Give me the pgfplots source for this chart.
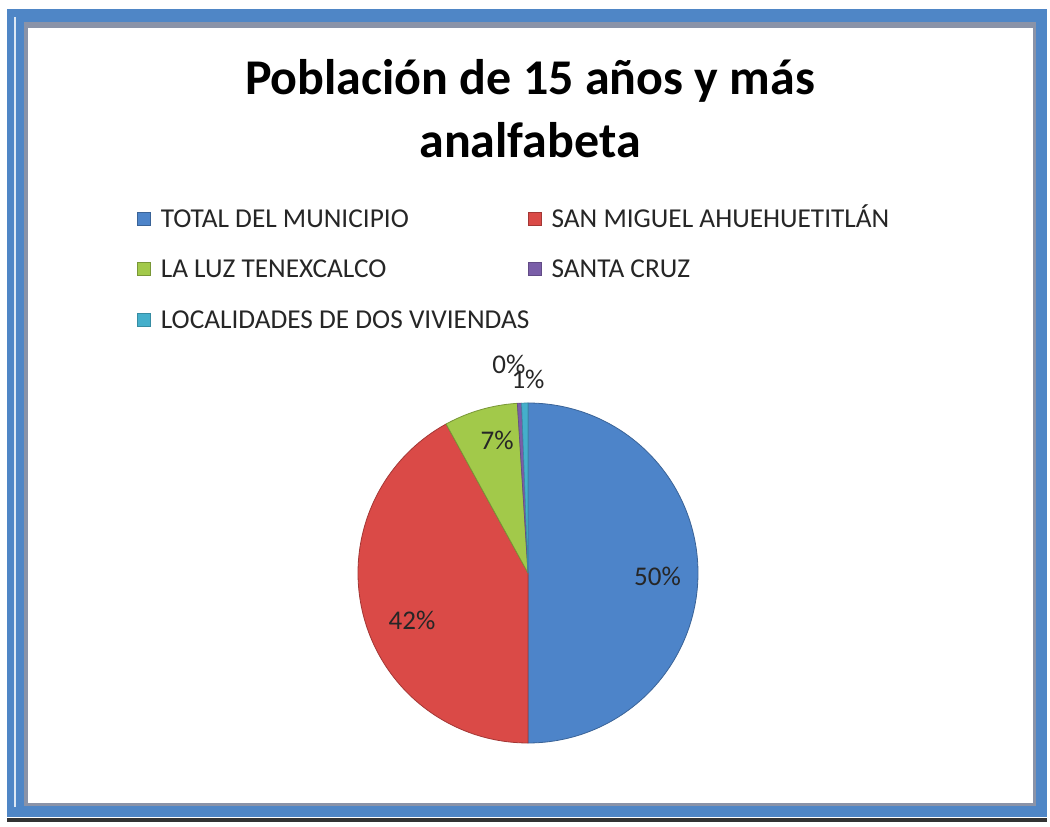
\documentclass[border=0pt]{standalone}
\usepackage{pgfplots}
\pgfplotsset{compat=1.18}
\usepackage{fontspec}
\setmainfont{Carlito}
\definecolor{frameblue}{HTML}{4F86C6}
\definecolor{framegray}{HTML}{8A93A8}
\definecolor{cBlue}{HTML}{4D84C9}
\definecolor{cRed}{HTML}{DA4A47}
\definecolor{cGreen}{HTML}{A2C94A}
\definecolor{cPurple}{HTML}{7A5EA8}
\definecolor{cTeal}{HTML}{45AFCB}
% shares (percent of the pie)
\def\vTotal{50}
\def\vSanMiguel{42}
\def\vLaLuz{7.0}
\def\vSantaCruz{0.4}
\def\vLocalidades{0.6}
\begin{document}
\begin{tikzpicture}[x=1pt,y=1pt]
\useasboundingbox (0,0) rectangle (1050,827);
\fill[white] (0,0) rectangle (1050,827);
\fill[frameblue] (7,818) rectangle (1047,10);
\fill[black!80] (7,9) rectangle (1047,5);
\fill[framegray] (24,805) rectangle (1036,21);
\fill[white] (28,799) rectangle (1033,24);
\draw[white!80!frameblue, line width=1.2pt] (15,810) -- (15,20);
\node[anchor=base, font=\fontsize{50}{60}\selectfont\bfseries] at (530,732) {Población de 15 años y más};
\node[anchor=base, font=\fontsize{50}{60}\selectfont\bfseries] at (530,669) {analfabeta};
\pgfmathsetmacro\aA{90}
\pgfmathsetmacro\aB{\aA-3.6*\vTotal}
\pgfmathsetmacro\aC{\aB-3.6*\vSanMiguel}
\pgfmathsetmacro\aD{\aC-3.6*\vLaLuz}
\pgfmathsetmacro\aE{\aD-3.6*\vSantaCruz}
\pgfmathsetmacro\aF{\aE-3.6*\vLocalidades}
\begin{axis}[
  at={(528pt,254pt)}, anchor=center,
  width=340pt, height=340pt, scale only axis,
  xmin=-1, xmax=1, ymin=-1, ymax=1,
  hide axis, clip=false,
  legend columns=2,
  legend cell align=left,
  legend image code/.code={\fill[#1] (0pt,-6.5pt) rectangle (13pt,6.5pt);},
  legend style={draw=none, fill=none, inner sep=0pt, outer sep=0pt,
    at={(axis description cs:-0.65,1.5676)}, anchor=north west,
    column sep=10pt, row sep=33.5pt, text=black!85,
    font=\fontsize{27.3}{30}\selectfont,
    nodes={inner sep=0pt, text height=17pt, text depth=0pt}},
]
\addplot[fill=cBlue, draw=cBlue!75!black, line width=0.8pt, domain=\aB:\aA, samples=120, variable=\t]
  ({cos(\t)},{sin(\t)}) -- (axis cs:0,0) -- cycle;
\addlegendentry{\makebox[357pt][l]{TOTAL DEL MUNICIPIO}}
\addplot[fill=cRed, draw=cRed!75!black, line width=0.8pt, domain=\aC:\aB, samples=120, variable=\t]
  ({cos(\t)},{sin(\t)}) -- (axis cs:0,0) -- cycle;
\addlegendentry{SAN MIGUEL AHUEHUETITLÁN}
\addplot[fill=cGreen, draw=cGreen!75!black, line width=0.8pt, domain=\aD:\aC, samples=30, variable=\t]
  ({cos(\t)},{sin(\t)}) -- (axis cs:0,0) -- cycle;
\addlegendentry{\makebox[357pt][l]{LA LUZ TENEXCALCO}}
\addplot[fill=cPurple, draw=cPurple!80!black, line width=0.6pt, domain=\aE:\aD, samples=5, variable=\t]
  ({cos(\t)},{sin(\t)}) -- (axis cs:0,0) -- cycle;
\addlegendentry{SANTA CRUZ}
\addplot[fill=cTeal, draw=cTeal!80!black, line width=0.6pt, domain=\aF:\aE, samples=5, variable=\t]
  ({cos(\t)},{sin(\t)}) -- (axis cs:0,0) -- cycle;
\addlegendentry{\makebox[357pt][l]{LOCALIDADES DE DOS VIVIENDAS}}
\begin{scope}[every node/.style={font=\fontsize{27}{30}\selectfont, text=black!85}]
\node at (axis cs:0.762,-0.021) {50\%};
\node at (axis cs:-0.682,-0.276) {42\%};
\node at (axis cs:-0.182,0.782) {7\%};
\node at (axis cs:-0.112,1.229) {0\%};
\node at (axis cs:0,1.141) {1\%};
\end{scope}
\end{axis}
\end{tikzpicture}
\end{document}
